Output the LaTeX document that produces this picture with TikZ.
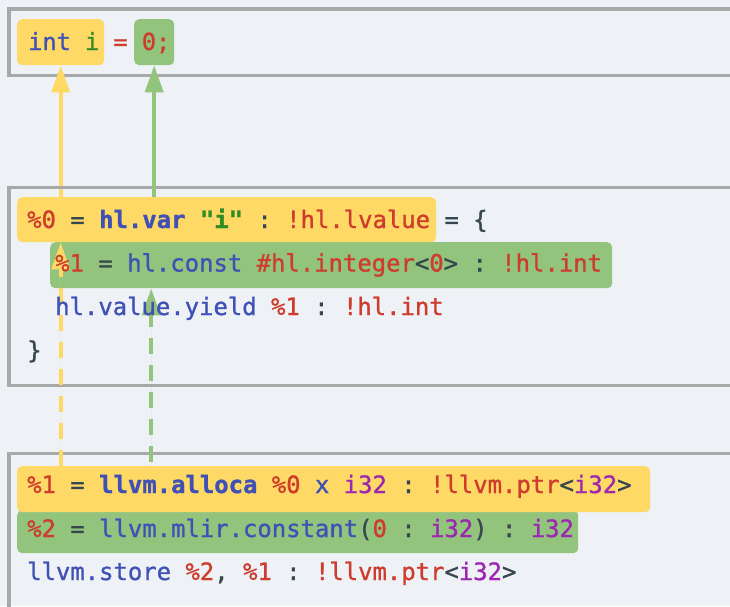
\documentclass[tikz,border=0pt]{standalone}
\usepackage{fontspec}
\usetikzlibrary{arrows.meta}
\newfontfamily\codefont[FakeBold=1.1, BoldFeatures={FakeBold=1.2}]{DejaVu Sans Mono}

\definecolor{pagebg}{HTML}{EEF2F6}
\definecolor{framegray}{HTML}{A8A8A8}
\definecolor{hlyellow}{HTML}{FFD966}
\definecolor{hlgreen}{HTML}{93C47D}
\definecolor{codeblue}{HTML}{3F51B5}
\definecolor{codered}{HTML}{CD3C2D}
\definecolor{codegreen}{HTML}{2F8C25}
\definecolor{codepurple}{HTML}{9C27B0}
\definecolor{codedark}{HTML}{37474F}

\newcommand\cRed[1]{\textcolor{codered}{#1}}
\newcommand\cBlue[1]{\textcolor{codeblue}{#1}}
\newcommand\cGrn[1]{\textcolor{codegreen}{#1}}
\newcommand\cPur[1]{\textcolor{codepurple}{#1}}
\newcommand\cDk[1]{\textcolor{codedark}{#1}}

\begin{document}
\begin{tikzpicture}[x=1pt,y=-1pt,
  frame/.style={draw=framegray, line width=3.3pt},
  hlbox/.style={rectangle, rounded corners=5pt, inner sep=0pt, anchor=north west},
  codeline/.style={anchor=base west, inner sep=0pt, text=codedark},
  codeA/.style={codeline, font=\codefont\fontsize{23.6}{28}\selectfont\frenchspacing},
  codeB/.style={codeline, font=\codefont\fontsize{23.9}{28}\selectfont\frenchspacing},
  link/.style={line width=4pt, -{Triangle[length=27pt,width=18pt]}},
  dlink/.style={link, dash pattern=on 16pt off 11pt}
]
\clip (0,0) rectangle (730,606);
\fill[pagebg] (0,0) rectangle (730,606);

% highlighted spans
\node[hlbox, fill=hlyellow, minimum width=87pt,  minimum height=46pt] (hIntI) at (17,19) {};
\node[hlbox, fill=hlgreen,  minimum width=40pt,  minimum height=46pt] (hZero) at (134,19) {};
\node[hlbox, fill=hlgreen,  minimum width=562pt, minimum height=46pt] (hConst) at (50,242) {};
\node[hlbox, fill=hlyellow, minimum width=419pt, minimum height=45pt] (hVar) at (17,197) {};
\node[hlbox, fill=hlgreen,  minimum width=561pt, minimum height=43pt] (hConstant) at (17,510) {};
\node[hlbox, fill=hlyellow, minimum width=633pt, minimum height=46pt] (hAlloca) at (17,466) {};

% frame of the source listing
\draw[frame] (745,9) -- (9,9) -- (9,75.8) -- (745,75.8);

% variable link, passing under the frame of the middle listing
\draw[link, draw=hlyellow, fill=hlyellow] ([yshift=-2pt]hVar.north -| hIntI.south) -- (hIntI.south);

% frames of the two lowered listings (open to the right)
\draw[frame] (745,187.5) -- (9,187.5) -- (9,385.7) -- (745,385.7);
\draw[frame] (745,453.3) -- (9,453.3) -- (9,620);

% remaining links
\draw[link, draw=hlgreen, fill=hlgreen] (hVar.north -| hZero.south) -- (hZero.south);
\draw[dlink, draw=hlyellow, fill=hlyellow] (hAlloca.north -| hIntI.south) -- (hVar.south -| hIntI.south);
\draw[dlink, dash phase=23pt, draw=hlgreen, fill=hlgreen]
  ([xshift=-3pt]hAlloca.north -| hZero.south) -- ([xshift=-3pt]hConst.south -| hZero.south);

% source line
\node[codeA] (src) at (28,50) {\cBlue{int} \cGrn{i} \cRed{=} \cRed{0;}};

% high-level dialect
\node[codeB] (hlA) at (27,228) {\cRed{\%0} \cDk{=} \cBlue{\bfseries hl.var} \cGrn{\bfseries "i"} \cDk{:} \cRed{!hl.lvalue} \cDk{= \{}};
\node[codeB] (hlB) at (55,271.5) {\cRed{\%1} \cDk{=} \cBlue{hl.const} \cRed{\#hl.integer}\cDk{<}\cRed{0}\cDk{>} \cDk{:} \cRed{!hl.int}};
\node[codeB] (hlC) at (55,315) {\cBlue{hl.value.yield} \cRed{\%1} \cDk{:} \cRed{!hl.int}};
\node[codeB] (hlD) at (27,358.5) {\cDk{\}}};

% LLVM dialect
\node[codeB] (llA) at (27,493) {\cRed{\%1} \cDk{=} \cBlue{\bfseries llvm.alloca} \cRed{\%0} \cBlue{x} \cPur{i32} \cDk{:} \cRed{!llvm.ptr}\cDk{<}\cPur{i32}\cDk{>}};
\node[codeB] (llB) at (27,537) {\cRed{\%2} \cDk{=} \cBlue{llvm.mlir.constant}\cDk{(}\cRed{0} \cDk{:} \cPur{i32}\cDk{)} \cDk{:} \cPur{i32}};
\node[codeB] (llC) at (27,580) {\cBlue{llvm.store} \cRed{\%2}\cDk{,} \cRed{\%1} \cDk{:} \cRed{!llvm.ptr}\cDk{<}\cPur{i32}\cDk{>}};
\end{tikzpicture}
\end{document}
